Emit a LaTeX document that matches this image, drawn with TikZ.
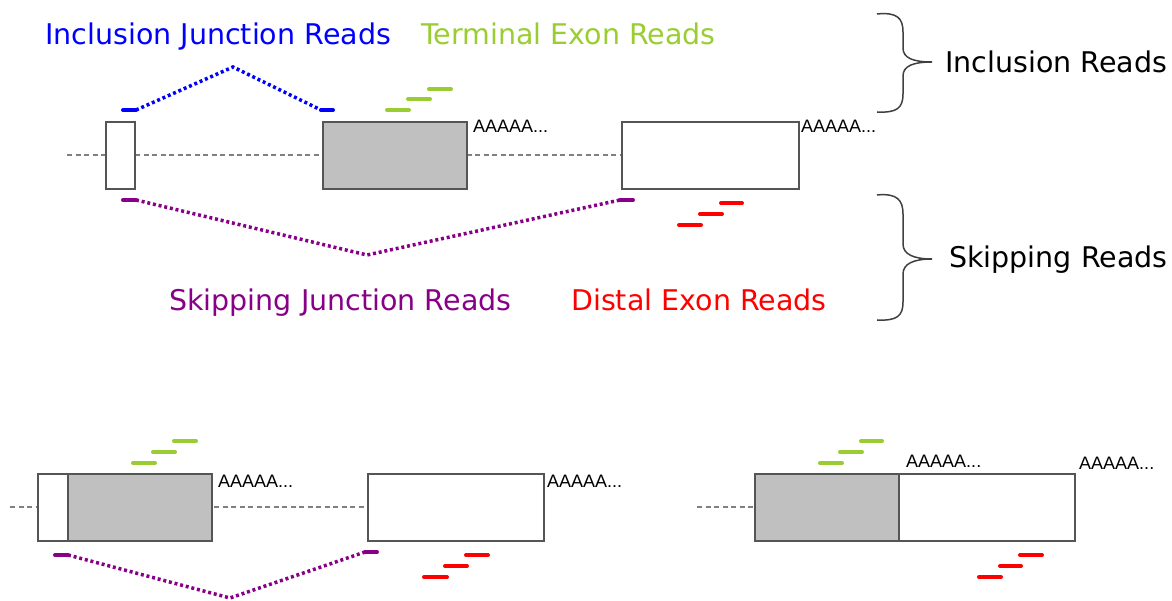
\documentclass[tikz,border=0pt]{standalone}
\usepackage{fontspec}
\setmainfont{DejaVu Sans}
\newfontfamily\polyafont{Liberation Sans}
\definecolor{incblue}{RGB}{0,0,255}
\definecolor{termgreen}{RGB}{154,205,50}
\definecolor{skippurple}{RGB}{136,0,136}
\definecolor{distred}{RGB}{255,0,0}
\definecolor{exongray}{RGB}{192,192,192}
\definecolor{edgegray}{RGB}{85,85,85}
\definecolor{introngray}{RGB}{128,128,128}
\tikzset{
  exon/.style={draw=edgegray, line width=1.8pt, rectangle, inner sep=0pt, anchor=north west, minimum height=67pt},
  whiteexon/.style={exon, fill=white},
  grayexon/.style={exon, fill=exongray},
  intron/.style={draw=introngray, line width=2.4pt, dash pattern=on 5pt off 3.5pt},
  readseg/.style={line width=4pt, line cap=round},
  junction/.style={line width=3.5pt, dash pattern=on 3pt off 2.8pt},
  polya/.style={font=\polyafont\fontsize{18}{18}\selectfont, inner sep=0pt, anchor=base west},
  lbl/.style={font=\fontsize{28.5}{30}\selectfont, inner sep=0pt, anchor=base west},
  brace/.style={draw=black!75, line width=1.5pt}
}
\begin{document}
\begin{tikzpicture}[x=1pt,y=-1pt]
\useasboundingbox (0,0) rectangle (1172,601);

% ---------------- labels ----------------
\node[lbl, text=incblue] (lincj) at (45,45) {Inclusion Junction Reads};
\node[lbl, text=termgreen] (lterm) at (421,45) {Terminal Exon Reads};
\node[lbl, text=skippurple] (lskipj) at (169,311) {Skipping Junction Reads};
\node[lbl, text=distred] (ldist) at (571,311) {Distal Exon Reads};
\node[lbl] (linc) at (945,73) {Inclusion Reads};
\node[lbl] (lskip) at (949,268) {Skipping Reads};

% ---------------- braces ----------------
\draw[brace] (877,14) .. controls (897,12) and (903,18) .. (903,32) -- (903,48)
  .. controls (903,58) and (913,62) .. (932,62)
  .. controls (913,62) and (903,66) .. (903,76) -- (903,94)
  .. controls (903,108) and (897,113) .. (877,112);
\draw[brace] (877,195) .. controls (897,193) and (903,200) .. (903,214) -- (903,244)
  .. controls (903,254) and (913,259) .. (932,259)
  .. controls (913,259) and (903,264) .. (903,274) -- (903,302)
  .. controls (903,316) and (897,321) .. (877,320);

% ---------------- full gene model ----------------
\coordinate (t0) at (67,155);
\coordinate (t1) at (621,155);
\draw[intron] (t0) -- (t1);
\node[whiteexon, minimum width=29pt] (te1) at (105,121) {};
\node[grayexon, minimum width=144pt] (te2) at (322,121) {};
\node[whiteexon, minimum width=177pt] (te3) at (621,121) {};
\node[polya] (tpa1) at (473,133) {AAAAA...};
\node[polya] (tpa2) at (801,133) {AAAAA...};

% inclusion junction read
\coordinate (ij0) at (123,110);
\coordinate (ij1) at (136,110);
\coordinate (ijp) at (233,67);
\coordinate (ij2) at (321,110);
\coordinate (ij3) at (333,110);
\draw[incblue, readseg] (ij0) -- (ij1);
\draw[incblue, junction] (ij1) -- (ijp) -- (ij2);
\draw[incblue, readseg] (ij2) -- (ij3);

% terminal exon reads
\draw[termgreen, readseg] (387,110) -- (409,110);
\draw[termgreen, readseg] (408,99) -- (430,99);
\draw[termgreen, readseg] (429,89) -- (451,89);

% skipping junction read
\coordinate (sj0) at (123,200);
\coordinate (sj1) at (136,200);
\coordinate (sjv) at (367,255);
\coordinate (sj2) at (620,200);
\coordinate (sj3) at (633,200);
\draw[skippurple, readseg] (sj0) -- (sj1);
\draw[skippurple, junction] (sj1) -- (sjv) -- (sj2);
\draw[skippurple, readseg] (sj2) -- (sj3);

% distal exon reads
\draw[distred, readseg] (679,225) -- (701,225);
\draw[distred, readseg] (700,214) -- (722,214);
\draw[distred, readseg] (721,203) -- (742,203);

% ---------------- isoform with skipped exon ----------------
\coordinate (b0) at (10,507);
\coordinate (b1) at (367,507);
\draw[intron] (b0) -- (b1);
\node[whiteexon, minimum width=30pt] (be1) at (37,473) {};
\node[grayexon, minimum width=144pt] (be2) at (67,473) {};
\node[whiteexon, minimum width=176pt] (be3) at (367,473) {};
\node[polya] (bpa1) at (218,487) {AAAAA...};
\node[polya] (bpa2) at (547,487) {AAAAA...};

\draw[termgreen, readseg] (133,463) -- (155,463);
\draw[termgreen, readseg] (153,452) -- (175,452);
\draw[termgreen, readseg] (174,441) -- (196,441);

\coordinate (bj0) at (55,555);
\coordinate (bj1) at (68,555);
\coordinate (bjv) at (230,598);
\coordinate (bj2) at (365,552);
\coordinate (bj3) at (377,552);
\draw[skippurple, readseg] (bj0) -- (bj1);
\draw[skippurple, junction] (bj1) -- (bjv) -- (bj2);
\draw[skippurple, readseg] (bj2) -- (bj3);

\draw[distred, readseg] (424,577) -- (447,577);
\draw[distred, readseg] (445,566) -- (467,566);
\draw[distred, readseg] (466,555) -- (488,555);

% ---------------- isoform with fused terminal exon ----------------
\coordinate (c0) at (697,507);
\coordinate (c1) at (754,507);
\draw[intron] (c0) -- (c1);
\node[grayexon, minimum width=144pt] (ce1) at (754,473) {};
\node[whiteexon, minimum width=176pt] (ce2) at (898,473) {};
\node[polya] (cpa1) at (906,467) {AAAAA...};
\node[polya] (cpa2) at (1079,469) {AAAAA...};

\draw[termgreen, readseg] (820,463) -- (842,463);
\draw[termgreen, readseg] (840,452) -- (862,452);
\draw[termgreen, readseg] (861,441) -- (882,441);

\draw[distred, readseg] (979,577) -- (1001,577);
\draw[distred, readseg] (1000,566) -- (1021,566);
\draw[distred, readseg] (1020,555) -- (1042,555);
\end{tikzpicture}
\end{document}
